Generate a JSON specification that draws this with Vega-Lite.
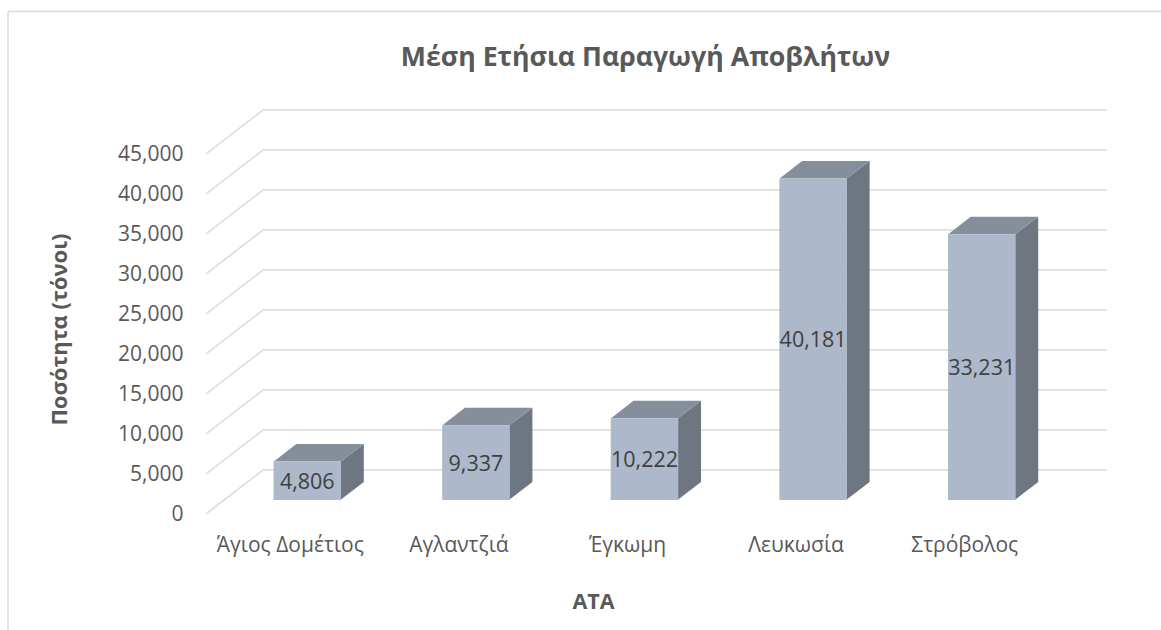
{
"$schema":"https://vega.github.io/schema/vega-lite/v6.json",
"autosize":"none",
"padding":{"left":206,"top":154,"right":112,"bottom":116},
"width":843,"height":360,
"background":"white",
"config":{"view":{"stroke":null},
 "axisY":{"titleFont":"Open Sans","titleFontSize":22,"titleFontWeight":"bold","titleColor":"#595959","labelFont":"Open Sans","labelFontSize":21,"labelColor":"#595959","labelPadding":23,"ticks":false,"domain":false,"grid":false,"tickCount":10},
 "axisX":{"titleFont":"Open Sans","titleFontSize":21.5,"titleFontWeight":"bold","titleColor":"#595959","labelFont":"Open Sans","labelFontSize":21,"labelColor":"#595959","labelAngle":0,"labelPadding":20,"ticks":false,"domain":false,"grid":false}},
"title":{"text":"Μέση Ετήσια Παραγωγή Αποβλήτων","font":"Open Sans","fontSize":26.7,"fontWeight":"bold","color":"#595959","anchor":"middle","dx":18,"baseline":"middle","offset":-74},
"datasets":{
"bars":[{"ata":"Άγιος Δομέτιος","value":4806},{"ata":"Αγλαντζιά","value":9337},{"ata":"Έγκωμη","value":10222},{"ata":"Λευκωσία","value":40181},{"ata":"Στρόβολος","value":33231}],
"grid":[{"tick":0},{"tick":5000},{"tick":10000},{"tick":15000},{"tick":20000},{"tick":25000},{"tick":30000},{"tick":35000},{"tick":40000},{"tick":45000}]
},
"resolve":{"scale":{"y":"independent"}},
"layer":[
{"layer":[
{"data":{"name":"grid"},"mark":{"type":"rule","color":"#d9d9d9","strokeWidth":1.5,"yOffset":-44},
 "encoding":{"x":{"value":57},"x2":{"value":901},"y":{"field":"tick","type":"quantitative","scale":{"domain":[0,45000],"nice":false},
   "axis":{"title":"Ποσότητα (τόνοι)","titleX":-135,"titleY":175,"labelExpr":"format(datum.value, ',')"}}}},
{"data":{"name":"grid"},"mark":{"type":"point","filled":false,"opacity":1,"shape":"M0 0 L57 -44","size":4,"stroke":"#d9d9d9","strokeWidth":1.5,"fill":null},
 "encoding":{"x":{"value":0},"y":{"field":"tick","type":"quantitative","axis":{"labelExpr":"format(datum.value, ',')"}}}},
{"data":{"name":"bars"},"mark":{"type":"point","filled":true,"opacity":1,"clip":true,"shape":"M33.5 0 L56.5 -17.5 L56.5 420 L33.5 437 Z","size":4,"color":"#6e7681","xOffset":17,"yOffset":-14},
 "encoding":{"x":{"field":"ata","type":"nominal","sort":null,"scale":{"type":"band","paddingInner":0,"paddingOuter":0},
   "axis":{"title":"ΑΤΑ","titleX":387,"titleY":77}},
   "y":{"field":"value","type":"quantitative","axis":{"labelExpr":"format(datum.value, ',')"}}}},
{"data":{"name":"bars"},"mark":{"type":"point","filled":true,"opacity":1,"shape":"M33 0 L56.5 -18 L57.5 -18 L57.5 14 L33 14 Z","size":4,"color":"white","xOffset":17,"yOffset":-14},
 "encoding":{"x":{"field":"ata","type":"nominal","sort":null},"y":{"datum":0,"type":"quantitative","axis":{"labelExpr":"format(datum.value, ',')"}}}},
{"data":{"name":"bars"},"mark":{"type":"point","filled":true,"opacity":1,"shape":"M-33.5 0 L33.5 0 L56.5 -17.5 L-11 -17.5 Z","size":4,"color":"#848f9b","xOffset":17,"yOffset":-14},
 "encoding":{"x":{"field":"ata","type":"nominal","sort":null},"y":{"field":"value","type":"quantitative","axis":{"labelExpr":"format(datum.value, ',')"}}}},
{"data":{"name":"bars"},"mark":{"type":"bar","size":67.5,"color":"#adb9ca","xOffset":17,"yOffset":-14,"y2Offset":-14},
 "encoding":{"x":{"field":"ata","type":"nominal","sort":null},"y":{"field":"value","type":"quantitative","axis":{"labelExpr":"format(datum.value, ',')"}}}},
{"mark":{"type":"rule","color":"#d9d9d9","strokeWidth":1.5},"data":{"values":[{}]},"encoding":{"x":{"value":-198},"x2":{"value":955},"y":{"value":-142.5}}},
{"mark":{"type":"rule","color":"#d9d9d9","strokeWidth":1.5},"data":{"values":[{}]},"encoding":{"x":{"value":-198},"y":{"value":-142.5},"y2":{"value":476}}}
]},
{"data":{"name":"bars"},"mark":{"type":"text","font":"Open Sans","fontSize":21.5,"color":"#404040","xOffset":17,"yOffset":-12,"baseline":"middle"},
 "encoding":{"x":{"field":"ata","type":"nominal","sort":null},
   "y":{"field":"value","type":"quantitative","scale":{"domain":[0,90000],"nice":false},"axis":null},
   "text":{"field":"value","type":"quantitative","format":","}}}
]
}
